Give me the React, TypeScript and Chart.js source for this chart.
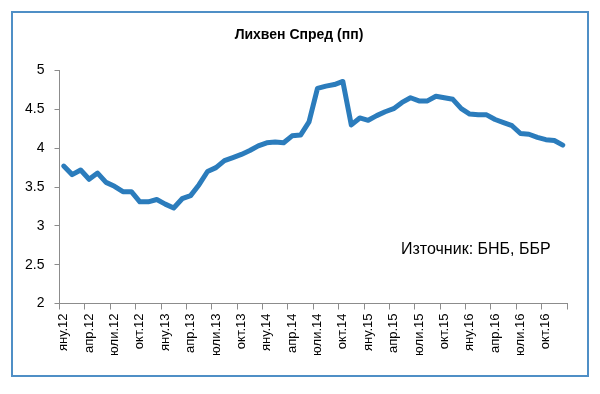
import React, { useEffect, useRef } from "react";
import { Chart, registerables } from "chart.js";

Chart.register(...registerables);

const MONTHS = ["яну", "фев", "мар", "апр", "май", "юни", "юли", "авг", "сеп", "окт", "ное", "дек"];
const YEARS = ["12", "13", "14", "15", "16"];
const categories = YEARS.flatMap((y) => MONTHS.map((m) => `${m}.${y}`));

const spread = [
  3.77, 3.66, 3.72, 3.6, 3.68, 3.56, 3.51, 3.44, 3.44, 3.31, 3.31, 3.34,
  3.28, 3.23, 3.35, 3.39, 3.53, 3.7, 3.75, 3.84, 3.88, 3.92, 3.97, 4.03,
  4.07, 4.08, 4.07, 4.16, 4.17, 4.34, 4.77, 4.8, 4.82, 4.86, 4.3, 4.39,
  4.36, 4.42, 4.47, 4.51, 4.59, 4.65, 4.61, 4.61, 4.67, 4.65, 4.63, 4.51,
  4.44, 4.43, 4.43, 4.37, 4.33, 4.29, 4.19, 4.18, 4.14, 4.11, 4.1, 4.04,
];

const TITLE = "Лихвен Спред (пп)";
const SOURCE = "Източник: БНБ, ББР";
const Y_MIN = 2;
const Y_MAX = 5;
const Y_STEP = 0.5;
const LABEL_EVERY = 3;

const FONT = "'Liberation Sans', Arial, sans-serif";
const AXIS_COLOR = "#8c8c8c";

export default function App() {
  const canvasRef = useRef<HTMLCanvasElement | null>(null);

  useEffect(() => {
    const canvas = canvasRef.current;
    if (!canvas) return;
    const chart = new Chart(canvas, {
      type: "line",
      data: {
        labels: categories,
        datasets: [
          {
            data: spread,
            borderColor: "#2b7cbc",
            borderWidth: 5,
            pointRadius: 0,
            tension: 0,
            borderCapStyle: "round",
            borderJoinStyle: "round",
            fill: false,
          },
        ],
      },
      options: {
        animation: false,
        responsive: false,
        devicePixelRatio: 1,
        layout: { padding: { left: 0, right: 33, top: 70.6, bottom: 0 } },
        plugins: {
          legend: { display: false },
          tooltip: { enabled: false },
          title: { display: false },
        },
        scales: {
          x: {
            type: "category",
            offset: true,
            afterFit: (scale: any) => {
              scale.height = 90.5;
            },
            grid: {
              offset: true,
              drawOnChartArea: false,
              drawTicks: true,
              tickLength: 6,
              tickColor: (c: any) =>
                c.index === undefined || c.index % LABEL_EVERY === 0 ? AXIS_COLOR : "rgba(0,0,0,0)",
            },
            border: { display: true, color: AXIS_COLOR, width: 1 },
            ticks: {
              autoSkip: false,
              minRotation: 90,
              maxRotation: 90,
              padding: 4,
              color: "#000",
              font: { family: FONT, size: 13 },
              callback: (_v: any, i: number) => (i % LABEL_EVERY === 0 ? categories[i] : ""),
            },
          },
          y: {
            min: Y_MIN,
            max: Y_MAX,
            afterFit: (scale: any) => {
              scale.width = 59.5;
            },
            grid: {
              drawOnChartArea: false,
              drawTicks: true,
              tickLength: 5,
              tickColor: AXIS_COLOR,
            },
            border: { display: true, color: AXIS_COLOR, width: 1 },
            ticks: {
              stepSize: Y_STEP,
              padding: 10,
              color: "#000",
              font: { family: FONT, size: 14 },
              callback: (v: any) => String(Number(v)),
            },
          },
        },
      },
    });
    return () => chart.destroy();
  }, []);

  return (
    <div
      style={{
        position: "fixed",
        left: 0,
        top: 0,
        width: 600,
        height: 394,
        background: "#fff",
        overflow: "hidden",
      }}
    >
      <canvas ref={canvasRef} width={600} height={394} style={{ position: "absolute", left: 0, top: 0 }} />
      <div
        style={{
          position: "absolute",
          left: 0,
          top: 26,
          width: 598,
          textAlign: "center",
          fontFamily: FONT,
          fontSize: 14,
          fontWeight: "bold",
          lineHeight: "17px",
          color: "#000",
          whiteSpace: "nowrap",
        }}
      >
        {TITLE}
      </div>
      <div
        style={{
          position: "absolute",
          left: 11,
          top: 11,
          width: 574,
          height: 362,
          border: "2px solid #4f8fc6",
          pointerEvents: "none",
        }}
      />
      <div
        style={{
          position: "absolute",
          left: 401,
          top: 240,
          fontFamily: FONT,
          fontSize: 16,
          lineHeight: "18px",
          color: "#000",
          whiteSpace: "nowrap",
        }}
      >
        {SOURCE}
      </div>
    </div>
  );
}
